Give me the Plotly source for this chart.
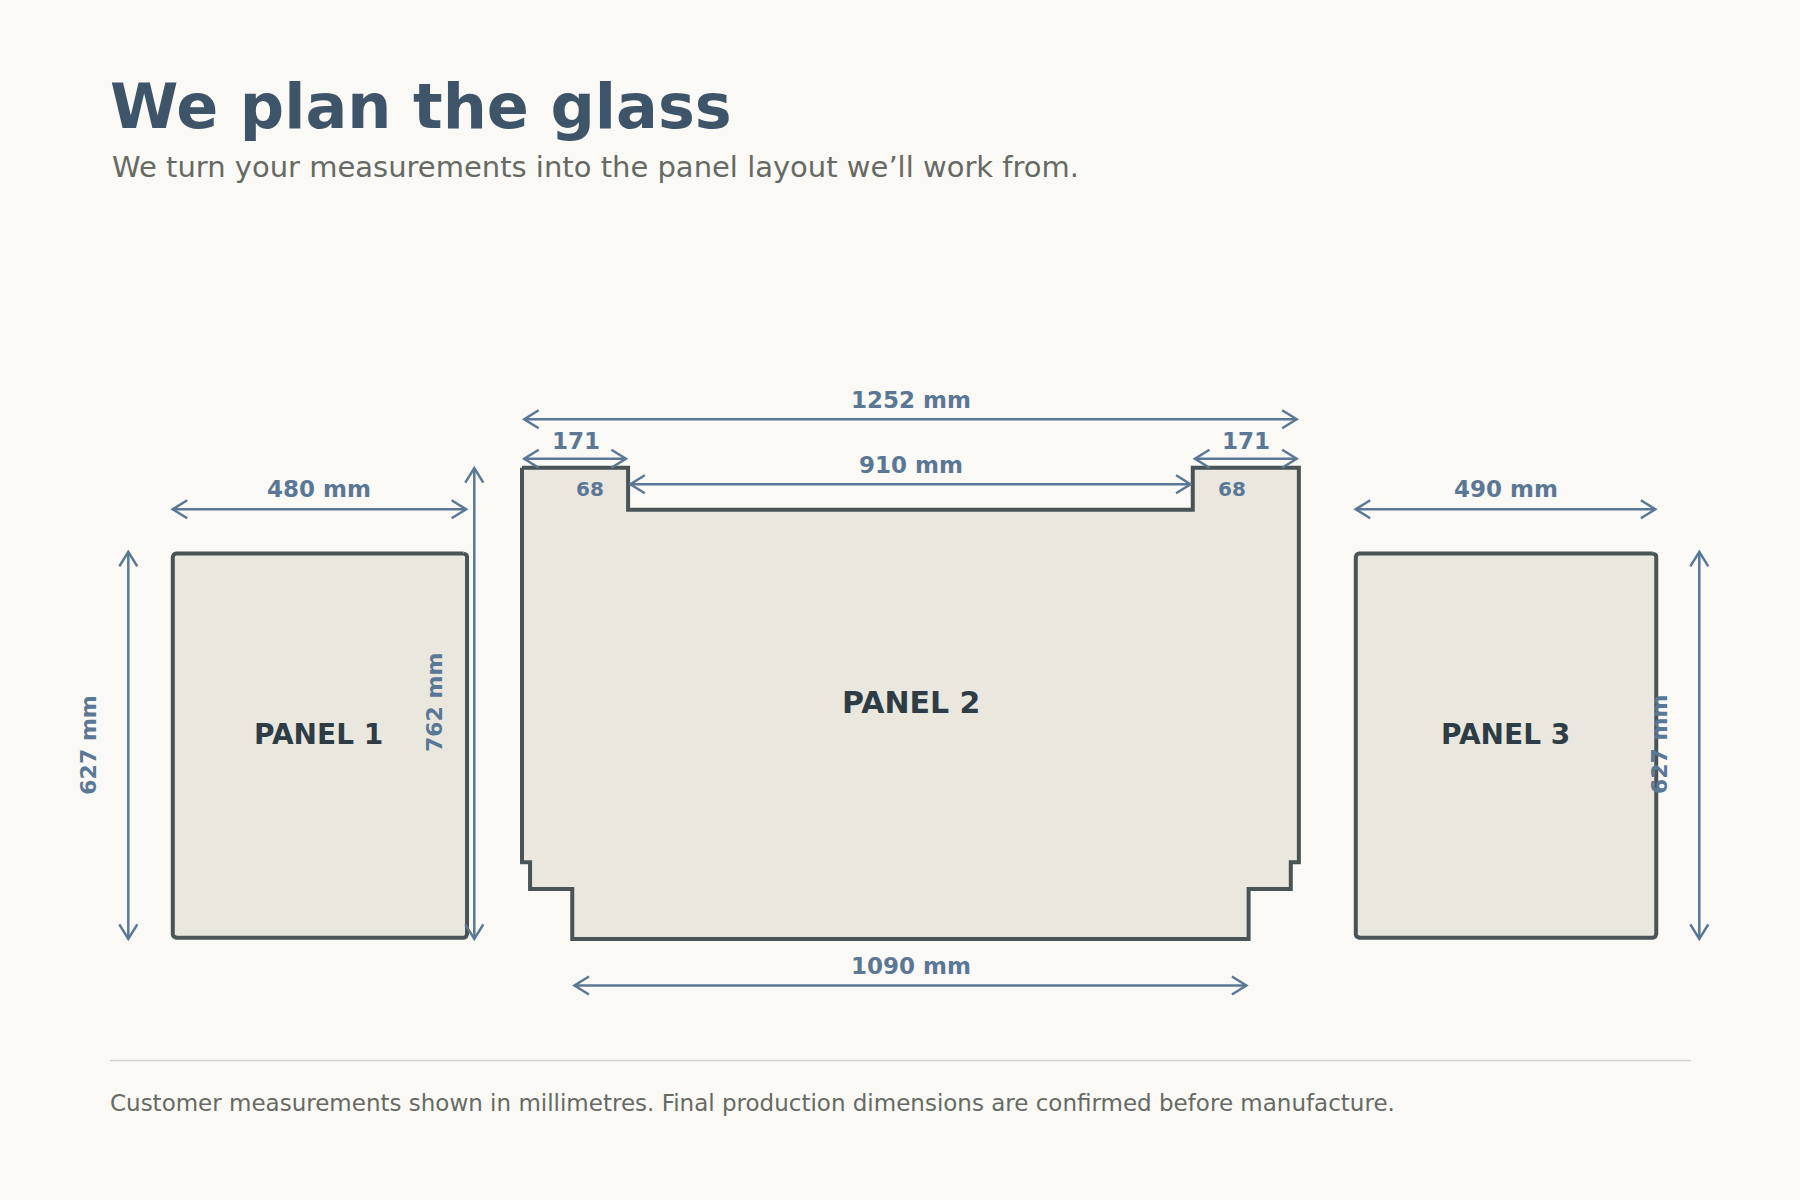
import math
import plotly.graph_objects as go

# ---- data (millimetres, as printed on the drawing) ----
PANEL_NAMES = ["PANEL 1", "PANEL 2", "PANEL 3"]
PANEL_WIDTHS = [480, 1252, 490]
PANEL_HEIGHTS = [627, 762, 627]
P2_TOP_EAR = 171
P2_TOP_INNER = 910
P2_NOTCH = 68
P2_BOTTOM = 1090
P2_STEP_X = [13, 81]
P2_STEP_Y = [124, 81]
TITLE = "We plan the glass"
SUBTITLE = "We turn your measurements into the panel layout we’ll work from."
FOOTER = "Customer measurements shown in millimetres. Final production dimensions are confirmed before manufacture."

# ---- layout (page pixels) ----
W, H = 1800, 1200
SX, SY = 0.6205, 0.6185  # px per mm on each axis
BG = "#FAF9F5"; FILL = "#EAE7DF"; STROKE = "#4A5456"; DIM = "#5A7895"
INK = "#2E3D45"; TITLE_C = "#3E5469"; MUTED = "#666A64"
P_LEFT = [170.5, 522, 1353.5]
P_BOTTOM = [939.5, 939, 939.5]
FONT = "DejaVu Sans"


def mx(px):
    return px / SX


def my(px):
    return px / SY


fig = go.Figure()


def outline(xs, ys):
    fig.add_trace(go.Scatter(x=xs, y=ys, mode="lines", fill="toself", fillcolor=FILL,
                             line=dict(color=STROKE, width=4), hoverinfo="skip", showlegend=False))


def box_outline(left, bottom, w, h, inset=1.8, radius=3.5):
    l, r = left + mx(inset) + mx(0.5), left + w - mx(inset) + mx(0.5)
    b, t = bottom - my(inset), bottom - h + my(inset)
    rx, ry = mx(radius), my(radius)
    corners = [(r - rx, t + ry, -90), (r - rx, b - ry, 0), (l + rx, b - ry, 90), (l + rx, t + ry, 180)]
    xs, ys = [], []
    for cx, cy, a0 in corners:
        for step in range(5):
            a = math.radians(a0 + step * 22.5)
            xs.append(cx + rx * math.cos(a))
            ys.append(cy + ry * math.sin(a))
    xs.append(xs[0]); ys.append(ys[0])
    outline(xs, ys)


def arrow(x0, y0, x1, y1, tip_inset=2.2, head_l=14.5, head_w=9):
    xs, ys = [], []
    if y0 == y1:
        i = mx(tip_inset); hl = mx(head_l); hw = my(head_w)
        a, b = x0 + i, x1 - i
        xs = [a, b, None, a + hl, a, a + hl, None, b - hl, b, b - hl]
        ys = [y0, y0, None, y0 - hw, y0, y0 + hw, None, y0 - hw, y0, y0 + hw]
    else:
        i = my(tip_inset); hl = my(head_l); hw = mx(head_w)
        a, b = y0 + i, y1 - i
        xs = [x0, x0, None, x0 - hw, x0, x0 + hw, None, x0 - hw, x0, x0 + hw]
        ys = [a, b, None, a + hl, a, a + hl, None, b - hl, b, b - hl]
    fig.add_trace(go.Scatter(x=xs, y=ys, mode="lines", line=dict(color=DIM, width=2.5),
                             connectgaps=False, hoverinfo="skip", showlegend=False))


notes = []


def label(text, x, y, size, color=DIM, bold=True, angle=0):
    t = f"<b>{text}</b>" if bold else text
    notes.append(dict(text=t, x=mx(x), y=my(y), xref="x", yref="y", showarrow=False,
                      xanchor="center", yanchor="middle", textangle=angle,
                      font=dict(family=FONT, size=size, color=color)))


# panels 1 and 3
L1, L2, L3 = (mx(v) for v in P_LEFT)
B1, B2, B3 = (my(v) for v in P_BOTTOM)
box_outline(L1, B1, PANEL_WIDTHS[0], PANEL_HEIGHTS[0])
box_outline(L3, B3, PANEL_WIDTHS[2], PANEL_HEIGHTS[2])

# panel 2
w2, h2 = PANEL_WIDTHS[1], PANEL_HEIGHTS[1]
T2 = B2 - h2
R2 = L2 + w2
sx0, sx1 = P2_STEP_X
sy0, sy1 = P2_STEP_Y
inner = (w2 - P2_TOP_INNER) / 2
xs2 = [L2, L2 + inner, L2 + inner, R2 - inner, R2 - inner, R2,
       R2, R2 - sx0, R2 - sx0, R2 - sx1, R2 - sx1, L2 + sx1, L2 + sx1, L2 + sx0, L2 + sx0, L2, L2]
ys2 = [T2, T2, T2 + P2_NOTCH, T2 + P2_NOTCH, T2, T2,
       B2 - sy0, B2 - sy0, B2 - sy1, B2 - sy1, B2, B2, B2 - sy1, B2 - sy1, B2 - sy0, B2 - sy0, T2]
outline(xs2, ys2)

# dimension lines
arrow(L1, my(509.3), L1 + PANEL_WIDTHS[0], my(509.3))
arrow(L3, my(509.3), L3 + PANEL_WIDTHS[2], my(509.3))
arrow(L2, my(419.3), R2, my(419.3))
arrow(L2, my(458.7), L2 + P2_TOP_EAR, my(458.7))
arrow(R2 - P2_TOP_EAR, my(458.7), R2, my(458.7))
arrow(L2 + inner, my(484.3), R2 - inner, my(484.3))
arrow(L2 + (w2 - P2_BOTTOM) / 2, my(985.5), R2 - (w2 - P2_BOTTOM) / 2, my(985.5))
arrow(mx(128.3), B1 - PANEL_HEIGHTS[0] - my(2), mx(128.3), B1 + my(1.5))
arrow(mx(474.3), B2 - h2 - my(1.8), mx(474.3), B2 + my(2))
arrow(mx(1699.3), B3 - PANEL_HEIGHTS[2] - my(2), mx(1699.3), B3 + my(1.5))

# divider
fig.add_trace(go.Scatter(x=[mx(110), mx(1691)], y=[my(1060.5), my(1060.5)], mode="lines",
                         line=dict(color="#D3D3CE", width=1.5), hoverinfo="skip", showlegend=False))

# labels
label(f"{PANEL_WIDTHS[0]} mm", 319, 488.8, 23)
label(f"{PANEL_WIDTHS[2]} mm", 1505.5, 488.8, 23)
label(f"{PANEL_WIDTHS[1]} mm", 911, 400.2, 23)
label(f"{P2_TOP_EAR}", 575.5, 440.6, 23)
label(f"{P2_TOP_EAR}", 1245.5, 440.6, 23)
label(f"{P2_TOP_INNER} mm", 911, 465, 23)
label(f"{P2_NOTCH}", 589.5, 488.5, 20)
label(f"{P2_NOTCH}", 1232, 488.5, 20)
label(f"{P2_BOTTOM} mm", 911, 966, 23)
label(f"{PANEL_HEIGHTS[0]} mm", 87.7, 745, 22, angle=-90)
label(f"{PANEL_HEIGHTS[1]} mm", 434, 703, 22, angle=-90)
label(f"{PANEL_HEIGHTS[2]} mm", 1659, 745, 22, angle=-90)
label(PANEL_NAMES[0], 318, 734, 28, color=INK)
label(PANEL_NAMES[1], 911, 702.5, 30, color=INK)
label(PANEL_NAMES[2], 1505.5, 734, 28, color=INK)


def page_text(text, px, py, size, color):
    notes.append(dict(text=text, x=px / W, y=1 - py / H, xref="paper", yref="paper", showarrow=False,
                      xanchor="left", yanchor="middle", font=dict(family=FONT, size=size, color=color)))


page_text(f"<b>{TITLE}</b>", 108, 107, 62, TITLE_C)
page_text(SUBTITLE, 109.8, 167, 29, MUTED)
page_text(FOOTER, 108.4, 1103, 23, MUTED)

fig.update_layout(width=W, height=H, autosize=False, margin=dict(l=0, r=0, t=0, b=0),
                  paper_bgcolor=BG, plot_bgcolor=BG, showlegend=False, annotations=notes,
                  xaxis=dict(range=[0, mx(W)], visible=False, fixedrange=True),
                  yaxis=dict(range=[my(H), 0], visible=False, fixedrange=True))
fig.write_html("out.html", config=dict(displayModeBar=False),
               post_script=f"document.body.style.margin='0';document.body.style.background='{BG}';")
